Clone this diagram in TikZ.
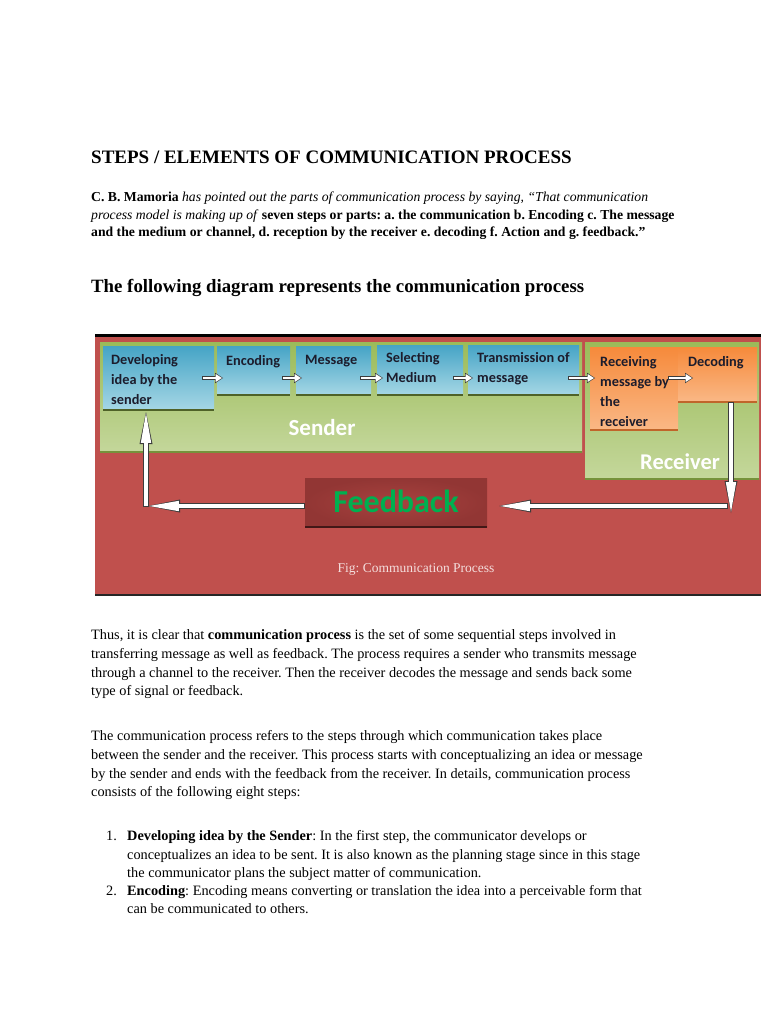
\documentclass[tikz,border=0pt]{standalone}
\usepackage{fontspec}
\setmainfont{Liberation Serif}
\newfontfamily\diagfont{Carlito}
\usetikzlibrary{arrows.meta}
\definecolor{bgred}{HTML}{C0504D}
\definecolor{fbin}{HTML}{A8423F}
\definecolor{fbout}{HTML}{923634}
\definecolor{fbtext}{HTML}{00B050}
\definecolor{gtop}{HTML}{9BBB59}
\definecolor{gbot}{HTML}{C4D79B}
\definecolor{gedge}{HTML}{76923C}
\definecolor{btop}{HTML}{45A4C6}
\definecolor{bbot}{HTML}{A6D7E5}
\definecolor{otop}{HTML}{F68A3B}
\definecolor{obot}{HTML}{FAB886}
\definecolor{oedge}{HTML}{C0652A}
\definecolor{boxtxt}{HTML}{1C1C2C}
\definecolor{capt}{HTML}{F4DEDD}
\definecolor{agray}{HTML}{3C3C3C}
\definecolor{shadowc}{HTML}{4F6228}
\newcommand\blockarr[3]{\draw[#1out] #2 -- #3; \draw[#1in] #2 -- #3;}
\frenchspacing
\begin{document}
\frenchspacing
\begin{tikzpicture}[x=1pt,y=-1pt,
  txt/.style={anchor=base west, inner sep=0pt, font=\fontsize{14.3}{17}\selectfont},
  ptxt/.style={anchor=base west, inner sep=0pt, font=\fontsize{13.7}{16}\selectfont},
  panel/.style={anchor=north west, inner sep=0pt, outer sep=0pt, top color=gtop, bottom color=gbot},
  bluebox/.style={anchor=north west, inner sep=0pt, outer sep=0pt, top color=btop, bottom color=bbot},
  orangebox/.style={anchor=north west, inner sep=0pt, outer sep=0pt, top color=otop, bottom color=obot},
  boxlabel/.style={anchor=north west, inner sep=0pt, align=left, text=boxtxt, font=\diagfont\bfseries\fontsize{14.3}{20}\selectfont},
  paneltitle/.style={inner sep=0pt, text=white, font=\diagfont\bfseries\fontsize{23}{26}\selectfont},
  smallout/.style={draw=agray, line width=4.4pt, -{Triangle[length=8pt,width=10.5pt,line width=0pt]}},
  smallin/.style={draw=white, line width=2.8pt, -{Triangle[length=6.2pt,width=8pt,line width=0pt]}, shorten >=1.1pt, shorten <=0.8pt},
  bigout/.style={draw=agray, line width=6pt, -{Triangle[length=32pt,width=13pt,line width=0pt]}},
  bigin/.style={draw=white, line width=4.4pt, -{Triangle[length=29.5pt,width=10.4pt,line width=0pt]}, shorten >=1.3pt, shorten <=0.8pt},
  bshadow/.style={draw=shadowc, line width=1.4pt},
  oshadow/.style={draw=oedge, line width=1.4pt}
]
\useasboundingbox[fill=white] (0,0) rectangle (768,1024);

% ---------- text above ----------
\node[anchor=base west, inner sep=0pt, font=\bfseries\fontsize{19}{22}\selectfont] (h1) at (91,164) {STEPS / ELEMENTS OF COMMUNICATION PROCESS};
\node[ptxt] (p1a) at (91,201.5) {\textbf{C. B. Mamoria} \textit{has pointed out the parts of communication process by saying, “That communication}};
\node[ptxt] (p1b) at (91,219) {\textit{process model is making up of} \textbf{seven steps or parts: a. the communication b. Encoding c. The message}};
\node[ptxt] (p1c) at (91,236.5) {\textbf{and the medium or channel, d. reception by the receiver e. decoding f. Action and g. feedback.”}};
\node[anchor=base west, inner sep=0pt, font=\bfseries\fontsize{18.8}{22}\selectfont] (h2) at (91,292) {The following diagram represents the communication process};

% ---------- diagram ----------
\fill[bgred] (95,336) rectangle (761,595);
\draw[black, line width=3pt] (95,335.5) -- (761,335.5);
\draw[black!85, line width=2pt] (95,595) -- (761,595);

\node[panel, minimum width=482pt, minimum height=110pt] (sender) at (100,342) {};
\draw[draw=gedge, line width=1.2pt] (sender.south west) -- (sender.south east);
\node[panel, minimum width=174pt, minimum height=137pt] (receiver) at (585,342) {};
\draw[draw=gedge, line width=1.2pt] (receiver.south west) -- (receiver.south east);

\node[bluebox, minimum width=111pt, minimum height=64pt] (dev) at (103,346) {};
\node[bluebox, minimum width=73pt, minimum height=49pt] (enc) at (217,346) {};
\node[bluebox, minimum width=75pt, minimum height=49pt] (msg) at (296,346) {};
\node[bluebox, minimum width=86pt, minimum height=50pt] (sel) at (377,345) {};
\node[bluebox, minimum width=111pt, minimum height=50pt] (trans) at (468,345) {};
\node[orangebox, minimum width=88pt, minimum height=83pt] (recv) at (590,347) {};
\node[orangebox, minimum width=79pt, minimum height=55pt] (dec) at (678,347) {};
\foreach \b in {dev,enc,msg,sel,trans} {\draw[bshadow] (\b.south west) -- (\b.south east);}
\foreach \b in {recv,dec} {\draw[oshadow] (\b.south west) -- (\b.south east);}

\node[boxlabel] (devt) at ([xshift=8pt,yshift=-8pt]dev.north west) {Developing\\idea by the\\sender};
\node[boxlabel] (enct) at ([xshift=9pt,yshift=-9pt]enc.north west) {Encoding};
\node[boxlabel] (msgt) at ([xshift=9pt,yshift=-9pt]msg.north west) {Message};
\node[boxlabel] (selt) at ([xshift=9pt,yshift=-7pt]sel.north west) {Selecting\\Medium};
\node[boxlabel] (transt) at ([xshift=9pt,yshift=-7pt]trans.north west) {Transmission of\\message};
\begin{scope}
\clip (recv.north west) rectangle (recv.south east);
\node[boxlabel] (recvt) at ([xshift=10pt,yshift=-9pt]recv.north west) {Receiving\\message by\\the\\receiver};
\end{scope}
\node[boxlabel] (dect) at ([xshift=10pt,yshift=-9pt]dec.north west) {Decoding};

\node[paneltitle] (sendert) at (322,428) {Sender};
\node[paneltitle, font=\diagfont\bfseries\fontsize{22.5}{26}\selectfont] (receivert) at (680,462) {Receiver};

\coordinate (ay) at (0,378);
\blockarr{small}{([xshift=-12pt]dev.east |- ay)}{([xshift=6pt]enc.west |- ay)}
\blockarr{small}{([xshift=-8pt]enc.east |- ay)}{([xshift=6pt]msg.west |- ay)}
\blockarr{small}{([xshift=-11pt]msg.east |- ay)}{([xshift=6pt]sel.west |- ay)}
\blockarr{small}{([xshift=-10pt]sel.east |- ay)}{([xshift=5pt]trans.west |- ay)}
\blockarr{small}{([xshift=-11pt]trans.east |- ay)}{([xshift=5pt]recv.west |- ay)}
\blockarr{small}{([xshift=-10pt]recv.east |- ay)}{([xshift=15pt]dec.west |- ay)}

\node[anchor=north west, inner sep=0pt, outer sep=0pt, minimum width=182pt, minimum height=49pt,
      inner color=fbin, outer color=fbout] (fb) at (305,478) {};
\draw[draw=black!55!fbout, line width=1.4pt] (fb.south west) -- (fb.south east);
\node[inner sep=0pt, text=fbtext, font=\diagfont\bfseries\fontsize{32}{36}\selectfont] (fbt) at (396,501) {Feedback};

\coordinate (rx) at (731,0);
\coordinate (c2) at (731,513);
\coordinate (c3) at (728,506);
\coordinate (c1) at (146,507);
\blockarr{big}{(dec.south -| rx)}{(c2)}
\blockarr{big}{(c3)}{([xshift=12pt]fb.east |- c3)}
\blockarr{big}{(fb.west |- c3)}{([xshift=2pt]c1 |- c3)}
\blockarr{big}{(c1)}{([yshift=-2pt]dev.south -| c1)}

\node[inner sep=0pt, text=capt, font=\fontsize{13.5}{16}\selectfont] (cap) at (416,569) {Fig: Communication Process};

% ---------- text below ----------
\node[txt] (a1) at (91,639) {Thus, it is clear that \textbf{communication process} is the set of some sequential steps involved in};
\node[txt] (a2) at (91,658) {transferring message as well as feedback. The process requires a sender who transmits message};
\node[txt] (a3) at (91,677) {through a channel to the receiver. Then the receiver decodes the message and sends back some};
\node[txt] (a4) at (91,695.5) {type of signal or feedback.};

\node[txt] (b1) at (91,740) {The communication process refers to the steps through which communication takes place};
\node[txt] (b2) at (91,759) {between the sender and the receiver. This process starts with conceptualizing an idea or message};
\node[txt] (b3) at (91,778) {by the sender and ends with the feedback from the receiver. In details, communication process};
\node[txt] (b4) at (91,796.5) {consists of the following eight steps:};

\node[txt] (n1) at (106,840) {1.};
\node[txt] (l1) at (127,840) {\textbf{Developing idea by the Sender}: In the first step, the communicator develops or};
\node[txt] (l2) at (127,859) {conceptualizes an idea to be sent. It is also known as the planning stage since in this stage};
\node[txt] (l3) at (127,877) {the communicator plans the subject matter of communication.};
\node[txt] (n2) at (106,895.5) {2.};
\node[txt] (l4) at (127,895.5) {\textbf{Encoding}: Encoding means converting or translation the idea into a perceivable form that};
\node[txt] (l5) at (127,913.5) {can be communicated to others.};
\end{tikzpicture}
\end{document}
